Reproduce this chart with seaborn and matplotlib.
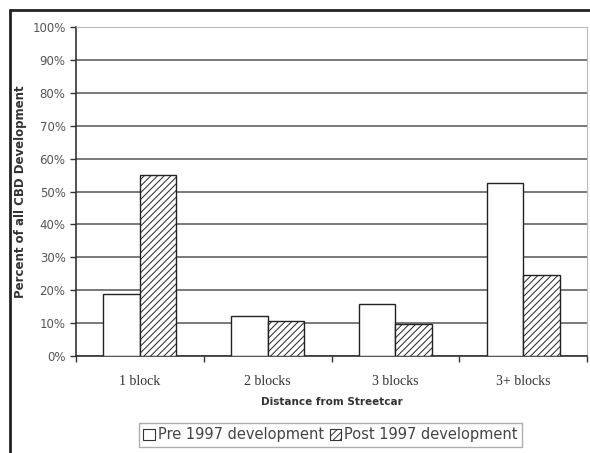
import matplotlib
matplotlib.use("Agg")
import matplotlib.pyplot as plt
from matplotlib.patches import Patch
from matplotlib.lines import Line2D
import seaborn as sns
import pandas as pd
import numpy as np

categories = ["1 block", "2 blocks", "3 blocks", "3+ blocks"]
pre_1997 = [19.0, 12.3, 15.8, 52.7]
post_1997 = [55.0, 10.7, 9.8, 24.6]
series = ["Pre 1997 development", "Post 1997 development"]
y_ticks = list(range(0, 101, 10))

df = pd.DataFrame({
    "distance": categories * 2,
    "percent": pre_1997 + post_1997,
    "period": [series[0]] * len(categories) + [series[1]] * len(categories),
})

sns.set_style("white")
plt.rcParams["font.family"] = ["DejaVu Sans"]
plt.rcParams["hatch.linewidth"] = 0.7

fig = plt.figure(figsize=(5.9, 4.53), dpi=100)
ax = fig.add_axes([0.1288, 0.2141, 0.8662, 0.7263])

sns.barplot(data=df, x="distance", y="percent", hue="period", order=categories,
            hue_order=series, palette=["white", "white"], edgecolor="#222222",
            linewidth=1.0, width=0.57, saturation=1, ax=ax, legend=False, zorder=3)

# hatch the post-1997 bars
for bar in ax.containers[1]:
    bar.set_hatch("/////")

ax.set_ylim(0, 100)
ax.set_xlim(-0.5, len(categories) - 0.5)
ax.set_yticks(y_ticks)
ax.set_yticklabels(["%d%%" % v for v in y_ticks], fontsize=8.5, color="#555555")
ax.set_xticks(np.arange(len(categories)))
ax.set_xticklabels(categories, family="Liberation Serif", fontsize=10, color="#333333")
ax.tick_params(axis="x", length=0, pad=14)
ax.tick_params(axis="y", length=4, width=1, color="#333333", direction="out", left=True)
# category boundary ticks
ax.set_xticks(np.arange(-0.5, len(categories), 1.0), minor=True)
ax.tick_params(axis="x", which="minor", length=4, width=1, color="#333333", direction="out", bottom=True)

ax.yaxis.grid(True, color="#555555", linewidth=1.1, zorder=0)
ax.set_axisbelow(True)
for side in ["top", "right"]:
    ax.spines[side].set_color("#bbbbbb")
for side in ["left", "bottom"]:
    ax.spines[side].set_color("#333333")
    ax.spines[side].set_linewidth(1.2)

ax.set_xlabel("Distance from Streetcar", fontsize=7.5, fontweight="bold", color="#333333", labelpad=6)
ax.set_ylabel("Percent of all CBD Development", fontsize=8.5, fontweight="bold", color="#333333")
ax.yaxis.set_label_coords(-0.096, 0.5)

handles = [Patch(facecolor="white", edgecolor="#333333", linewidth=0.8, label=series[0]),
           Patch(facecolor="white", edgecolor="#333333", linewidth=0.8, hatch="/////", label=series[1])]
leg = fig.legend(handles=handles, loc="center", bbox_to_anchor=(0.56, 0.04), ncol=2,
                 fontsize=10.5, frameon=True, fancybox=False, edgecolor="#999999",
                 handlelength=0.8, handleheight=0.8, handletextpad=0.2, columnspacing=0.4,
                 borderpad=0.3)
for t in leg.get_texts():
    t.set_color("#444444")

# outer frame lines (top and left)
fig.add_artist(Line2D([10 / 590, 1], [1 - 10 / 453, 1 - 10 / 453], color="#222222", linewidth=2))
fig.add_artist(Line2D([10 / 590, 10 / 590], [0, 1 - 10 / 453], color="#222222", linewidth=2))

fig.savefig("out.png", dpi=100)
